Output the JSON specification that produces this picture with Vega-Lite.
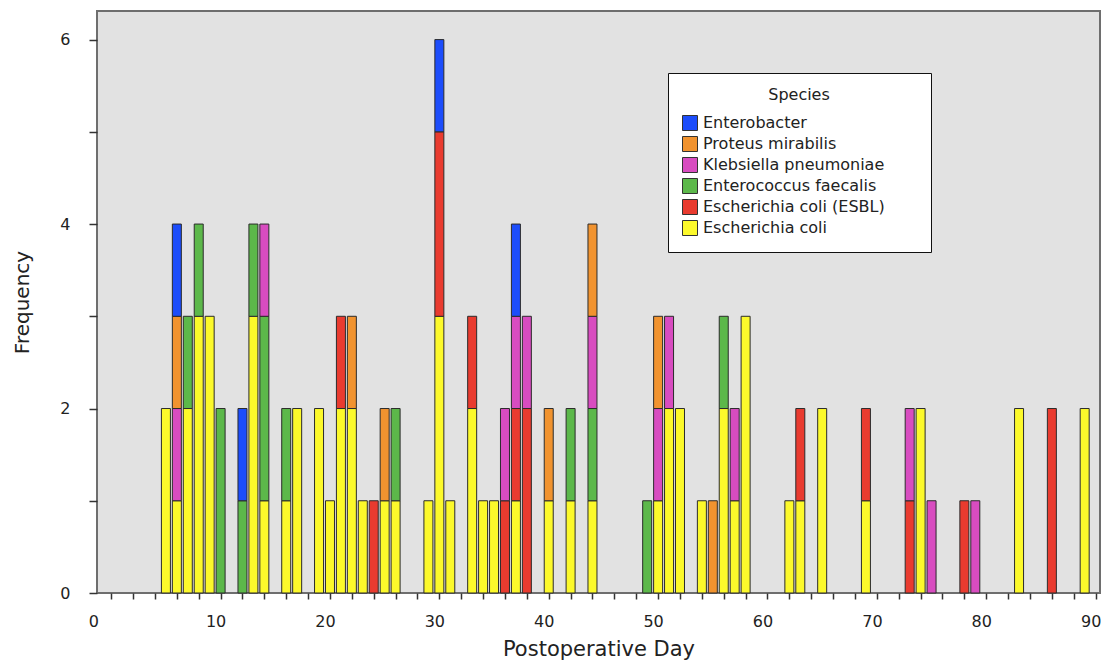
{
  "$schema": "https://vega.github.io/schema/vega-lite/v6.json",
  "width": 1003,
  "height": 582,
  "autosize": {"type": "none"},
  "padding": {"left": 97, "top": 11, "right": 3, "bottom": 71},
  "background": "white",
  "config": {
    "view": {"fill": "#e2e2e2", "stroke": "#6e6e6e", "strokeWidth": 2},
    "font": "DejaVu Sans"
  },
  "data": {
    "values": [
      {"day": 5, "species": "Escherichia coli", "count": 2},
      {"day": 6, "species": "Escherichia coli", "count": 1},
      {"day": 6, "species": "Klebsiella pneumoniae", "count": 1},
      {"day": 6, "species": "Proteus mirabilis", "count": 1},
      {"day": 6, "species": "Enterobacter", "count": 1},
      {"day": 7, "species": "Escherichia coli", "count": 2},
      {"day": 7, "species": "Enterococcus faecalis", "count": 1},
      {"day": 8, "species": "Escherichia coli", "count": 3},
      {"day": 8, "species": "Enterococcus faecalis", "count": 1},
      {"day": 9, "species": "Escherichia coli", "count": 3},
      {"day": 10, "species": "Enterococcus faecalis", "count": 2},
      {"day": 12, "species": "Enterococcus faecalis", "count": 1},
      {"day": 12, "species": "Enterobacter", "count": 1},
      {"day": 13, "species": "Escherichia coli", "count": 3},
      {"day": 13, "species": "Enterococcus faecalis", "count": 1},
      {"day": 14, "species": "Escherichia coli", "count": 1},
      {"day": 14, "species": "Enterococcus faecalis", "count": 2},
      {"day": 14, "species": "Klebsiella pneumoniae", "count": 1},
      {"day": 16, "species": "Escherichia coli", "count": 1},
      {"day": 16, "species": "Enterococcus faecalis", "count": 1},
      {"day": 17, "species": "Escherichia coli", "count": 2},
      {"day": 19, "species": "Escherichia coli", "count": 2},
      {"day": 20, "species": "Escherichia coli", "count": 1},
      {"day": 21, "species": "Escherichia coli", "count": 2},
      {"day": 21, "species": "Escherichia coli (ESBL)", "count": 1},
      {"day": 22, "species": "Escherichia coli", "count": 2},
      {"day": 22, "species": "Proteus mirabilis", "count": 1},
      {"day": 23, "species": "Escherichia coli", "count": 1},
      {"day": 24, "species": "Escherichia coli (ESBL)", "count": 1},
      {"day": 25, "species": "Escherichia coli", "count": 1},
      {"day": 25, "species": "Proteus mirabilis", "count": 1},
      {"day": 26, "species": "Escherichia coli", "count": 1},
      {"day": 26, "species": "Enterococcus faecalis", "count": 1},
      {"day": 29, "species": "Escherichia coli", "count": 1},
      {"day": 30, "species": "Escherichia coli", "count": 3},
      {"day": 30, "species": "Escherichia coli (ESBL)", "count": 2},
      {"day": 30, "species": "Enterobacter", "count": 1},
      {"day": 31, "species": "Escherichia coli", "count": 1},
      {"day": 33, "species": "Escherichia coli", "count": 2},
      {"day": 33, "species": "Escherichia coli (ESBL)", "count": 1},
      {"day": 34, "species": "Escherichia coli", "count": 1},
      {"day": 35, "species": "Escherichia coli", "count": 1},
      {"day": 36, "species": "Escherichia coli (ESBL)", "count": 1},
      {"day": 36, "species": "Klebsiella pneumoniae", "count": 1},
      {"day": 37, "species": "Escherichia coli", "count": 1},
      {"day": 37, "species": "Escherichia coli (ESBL)", "count": 1},
      {"day": 37, "species": "Klebsiella pneumoniae", "count": 1},
      {"day": 37, "species": "Enterobacter", "count": 1},
      {"day": 38, "species": "Escherichia coli (ESBL)", "count": 2},
      {"day": 38, "species": "Klebsiella pneumoniae", "count": 1},
      {"day": 40, "species": "Escherichia coli", "count": 1},
      {"day": 40, "species": "Proteus mirabilis", "count": 1},
      {"day": 42, "species": "Escherichia coli", "count": 1},
      {"day": 42, "species": "Enterococcus faecalis", "count": 1},
      {"day": 44, "species": "Escherichia coli", "count": 1},
      {"day": 44, "species": "Enterococcus faecalis", "count": 1},
      {"day": 44, "species": "Klebsiella pneumoniae", "count": 1},
      {"day": 44, "species": "Proteus mirabilis", "count": 1},
      {"day": 49, "species": "Enterococcus faecalis", "count": 1},
      {"day": 50, "species": "Escherichia coli", "count": 1},
      {"day": 50, "species": "Klebsiella pneumoniae", "count": 1},
      {"day": 50, "species": "Proteus mirabilis", "count": 1},
      {"day": 51, "species": "Escherichia coli", "count": 2},
      {"day": 51, "species": "Klebsiella pneumoniae", "count": 1},
      {"day": 52, "species": "Escherichia coli", "count": 2},
      {"day": 54, "species": "Escherichia coli", "count": 1},
      {"day": 55, "species": "Proteus mirabilis", "count": 1},
      {"day": 56, "species": "Escherichia coli", "count": 2},
      {"day": 56, "species": "Enterococcus faecalis", "count": 1},
      {"day": 57, "species": "Escherichia coli", "count": 1},
      {"day": 57, "species": "Klebsiella pneumoniae", "count": 1},
      {"day": 58, "species": "Escherichia coli", "count": 3},
      {"day": 62, "species": "Escherichia coli", "count": 1},
      {"day": 63, "species": "Escherichia coli", "count": 1},
      {"day": 63, "species": "Escherichia coli (ESBL)", "count": 1},
      {"day": 65, "species": "Escherichia coli", "count": 2},
      {"day": 69, "species": "Escherichia coli", "count": 1},
      {"day": 69, "species": "Escherichia coli (ESBL)", "count": 1},
      {"day": 73, "species": "Escherichia coli (ESBL)", "count": 1},
      {"day": 73, "species": "Klebsiella pneumoniae", "count": 1},
      {"day": 74, "species": "Escherichia coli", "count": 2},
      {"day": 75, "species": "Klebsiella pneumoniae", "count": 1},
      {"day": 78, "species": "Escherichia coli (ESBL)", "count": 1},
      {"day": 79, "species": "Klebsiella pneumoniae", "count": 1},
      {"day": 83, "species": "Escherichia coli", "count": 2},
      {"day": 86, "species": "Escherichia coli (ESBL)", "count": 2},
      {"day": 89, "species": "Escherichia coli", "count": 2}
    ]
  },
  "transform": [
    {
      "lookup": "species",
      "from": {
        "data": {
          "values": [
            {"species": "Escherichia coli", "rank": 1},
            {"species": "Escherichia coli (ESBL)", "rank": 2},
            {"species": "Enterococcus faecalis", "rank": 3},
            {"species": "Klebsiella pneumoniae", "rank": 4},
            {"species": "Proteus mirabilis", "rank": 5},
            {"species": "Enterobacter", "rank": 6}
          ]
        },
        "key": "species",
        "fields": ["rank"]
      }
    }
  ],
  "mark": {"type": "bar", "width": 9, "stroke": "#2b2b2b", "strokeWidth": 1},
  "encoding": {
    "x": {
      "field": "day",
      "type": "quantitative",
      "scale": {"domain": [-1.3, 90.4], "nice": false, "zero": false, "padding": 0},
      "axis": {
        "title": "Postoperative Day",
        "values": [0, 2, 4, 6, 8, 10, 12, 14, 16, 18, 20, 22, 24, 26, 28, 30, 32, 34, 36, 38, 40, 42, 44, 46, 48, 50, 52, 54, 56, 58, 60, 62, 64, 66, 68, 70, 72, 74, 76, 78, 80, 82, 84, 86, 88, 90],
        "labelExpr": "datum.value % 10 === 0 ? datum.label : ''",
        "labelOffset": {"condition": {"test": "datum.value === 0", "value": -18}, "value": -5},
        "domain": false,
        "grid": false,
        "tickSize": 6,
        "tickColor": "#333",
        "tickWidth": 1.5,
        "labelFont": "DejaVu Sans",
        "labelFontSize": 16,
        "labelColor": "#222",
        "labelPadding": 14,
        "labelFlush": false,
        "labelOverlap": false,
        "titleFont": "DejaVu Sans",
        "titleFontSize": 21,
        "titleFontWeight": "normal",
        "titleColor": "#222",
        "titlePadding": 9
      }
    },
    "y": {
      "field": "count",
      "type": "quantitative",
      "scale": {"domain": [0, 6.31], "nice": false},
      "axis": {
        "title": "Frequency",
        "values": [0, 1, 2, 3, 4, 5, 6],
        "labelExpr": "datum.value % 2 === 0 ? datum.label : ''",
        "domain": false,
        "grid": false,
        "tickSize": 8,
        "tickColor": "#333",
        "tickWidth": 1.5,
        "labelFont": "DejaVu Sans",
        "labelFontSize": 16,
        "labelColor": "#222",
        "labelPadding": 19,
        "labelFlush": false,
        "labelOverlap": false,
        "titleFont": "DejaVu Sans",
        "titleFontSize": 20,
        "titleFontWeight": "normal",
        "titleColor": "#222",
        "titlePadding": 27
      }
    },
    "order": {"field": "rank", "type": "quantitative", "sort": "ascending"},
    "color": {
      "field": "species",
      "type": "nominal",
      "sort": ["Enterobacter", "Proteus mirabilis", "Klebsiella pneumoniae", "Enterococcus faecalis", "Escherichia coli (ESBL)", "Escherichia coli"],
      "scale": {
        "domain": ["Enterobacter", "Proteus mirabilis", "Klebsiella pneumoniae", "Enterococcus faecalis", "Escherichia coli (ESBL)", "Escherichia coli"],
        "range": ["#1c4dfb", "#f1932f", "#d84cc0", "#5cb84a", "#e93b2f", "#fcf92b"]
      },
      "legend": {
        "orient": "none",
        "legendX": 571,
        "legendY": 62,
        "title": "Species",
        "values": ["Enterobacter", "Proteus mirabilis", "Klebsiella pneumoniae", "Enterococcus faecalis", "Escherichia coli (ESBL)", "Escherichia coli"],
        "labelExpr": "datum.label + '\u00a0\u00a0\u00a0\u00a0\u2800'",
        "fillColor": "white",
        "strokeColor": "#111",
        "padding": 14,
        "titleFont": "DejaVu Sans",
        "titleFontSize": 16,
        "titleFontWeight": "normal",
        "titleAnchor": "middle",
        "titleColor": "#222",
        "titlePadding": 12,
        "labelFont": "DejaVu Sans",
        "labelFontSize": 16,
        "labelColor": "#222",
        "labelOffset": 5,
        "labelLimit": 400,
        "symbolType": "square",
        "symbolSize": 225,
        "symbolStrokeColor": "#333",
        "symbolStrokeWidth": 1,
        "symbolOpacity": 1,
        "rowPadding": 1
      }
    }
  }
}
